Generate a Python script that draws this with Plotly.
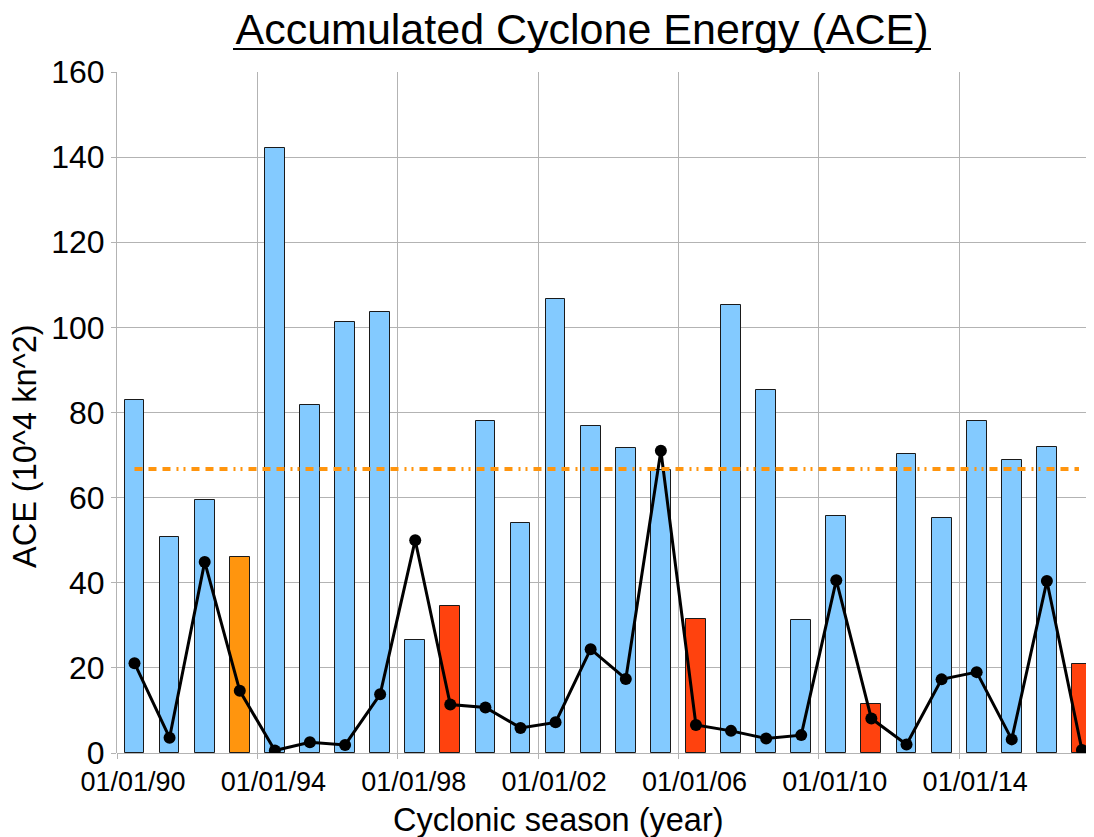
import plotly.graph_objects as go

# ---- data ----
seasons = [1990, 1991, 1992, 1993, 1994, 1995, 1996, 1997, 1998, 1999,
           2000, 2001, 2002, 2003, 2004, 2005, 2006, 2007, 2008, 2009,
           2010, 2011, 2012, 2013, 2014, 2015, 2016, 2017]
ace_values = [82.9, 50.8, 59.4, 46.0, 142.2, 81.8, 101.2, 103.5, 26.6, 34.5,
              77.9, 54.0, 106.7, 76.8, 71.6, 66.6, 31.6, 105.3, 85.4, 31.3,
              55.6, 11.5, 70.2, 55.1, 77.9, 68.8, 71.8, 20.9]
# season category: 'n' normal, 'o' notable, 'r' weak
season_type = ['n', 'n', 'n', 'o', 'n', 'n', 'n', 'n', 'n', 'r',
               'n', 'n', 'n', 'n', 'n', 'n', 'r', 'n', 'n', 'n',
               'n', 'r', 'n', 'n', 'n', 'n', 'n', 'r']
line_values = [21.1, 3.6, 44.9, 14.6, 0.6, 2.5, 1.9, 13.8, 50.0, 11.4,
               10.7, 5.9, 7.2, 24.4, 17.4, 71.0, 6.6, 5.2, 3.4, 4.2,
               40.6, 8.1, 2.0, 17.3, 19.0, 3.2, 40.4, 0.7]
ace_mean = 66.7

type_colors = {'n': '#83CAFF', 'o': '#FF950E', 'r': '#FF420E'}

dates = [f"{y}-07-02" for y in seasons]
bar_colors = [type_colors[t] for t in season_type]

FONT = "Liberation Sans, Arial, sans-serif"

# page body has an 8px margin: figure is laid out to compensate
W, H = 1086, 829
L, T, R, B = 109, 64, 1, 84
PW, PH = W - L - R, H - T - B

fig = go.Figure()
fig.add_trace(go.Bar(
    x=dates, y=ace_values,
    marker=dict(color=bar_colors, line=dict(color='#1a1a1a', width=1)),
    width=0.565 * 365.25 * 86400000,
    showlegend=False,
))
fig.add_trace(go.Scatter(
    x=dates, y=line_values, mode='lines+markers',
    line=dict(color='black', width=3),
    marker=dict(color='black', size=12),
    showlegend=False,
))
fig.add_trace(go.Scatter(
    x=[dates[0], "2017-06-01"], y=[ace_mean, ace_mean], mode='lines',
    line=dict(color='#FF950E', width=4,
              dash='8px,6px,8px,6px,8px,6px,2px,5px,2px,6px'),
    showlegend=False,
))

fig.update_layout(
    width=W, height=H,
    margin=dict(l=L, r=R, t=T, b=B),
    paper_bgcolor='white', plot_bgcolor='white',
    font=dict(family=FONT, color='black'),
    bargap=0,
    title=dict(
        text='Accumulated Cyclone Energy (ACE)',
        font=dict(size=43, family=FONT, color='black'),
        x=(582 - 8) / W, xref='container', xanchor='center',
        y=1 - (29 - 8) / H, yref='container', yanchor='middle',
    ),
    xaxis=dict(
        type='date',
        range=['1990-01-01', '2017-10-25'],
        tick0='1990-01-01', dtick='M48', tickformat='%d/%m/%y',
        showgrid=True, gridcolor='#b3b3b3', gridwidth=1,
        ticks='outside', ticklen=5, tickcolor='#b3b3b3',
        tickfont=dict(size=27, family=FONT, color='black'),
        ticklabelshift=16,
        showline=False, zeroline=False,
    ),
    yaxis=dict(
        range=[0, 160], dtick=20,
        showgrid=True, gridcolor='#b3b3b3', gridwidth=1,
        ticks='outside', ticklen=5, tickcolor='#b3b3b3',
        tickfont=dict(size=32, family=FONT, color='black'),
        showline=True, linecolor='#b3b3b3', linewidth=1,
        zeroline=True, zerolinecolor='#b3b3b3', zerolinewidth=1,
    ),
    shapes=[
        # title underline
        dict(type='line', xref='paper', yref='paper',
             x0=(233 - 8 - L) / PW, x1=(931 - 8 - L) / PW,
             y0=(753 - 49) / PH, y1=(753 - 49) / PH,
             line=dict(color='black', width=2)),
    ],
    annotations=[
        dict(text='ACE (10^4 kn^2)', textangle=-90, showarrow=False,
             xref='paper', yref='paper',
             x=-(117 - 25) / PW, y=(753 - 446) / PH,
             xanchor='center', yanchor='middle',
             font=dict(size=32.5, family=FONT, color='black')),
        dict(text='Cyclonic season (year)', showarrow=False,
             xref='paper', yref='paper',
             x=(558 - 117) / PW, y=-(820 - 753) / PH,
             xanchor='center', yanchor='middle',
             font=dict(size=32.5, family=FONT, color='black')),
    ],
)

fig.write_html("out.html")
